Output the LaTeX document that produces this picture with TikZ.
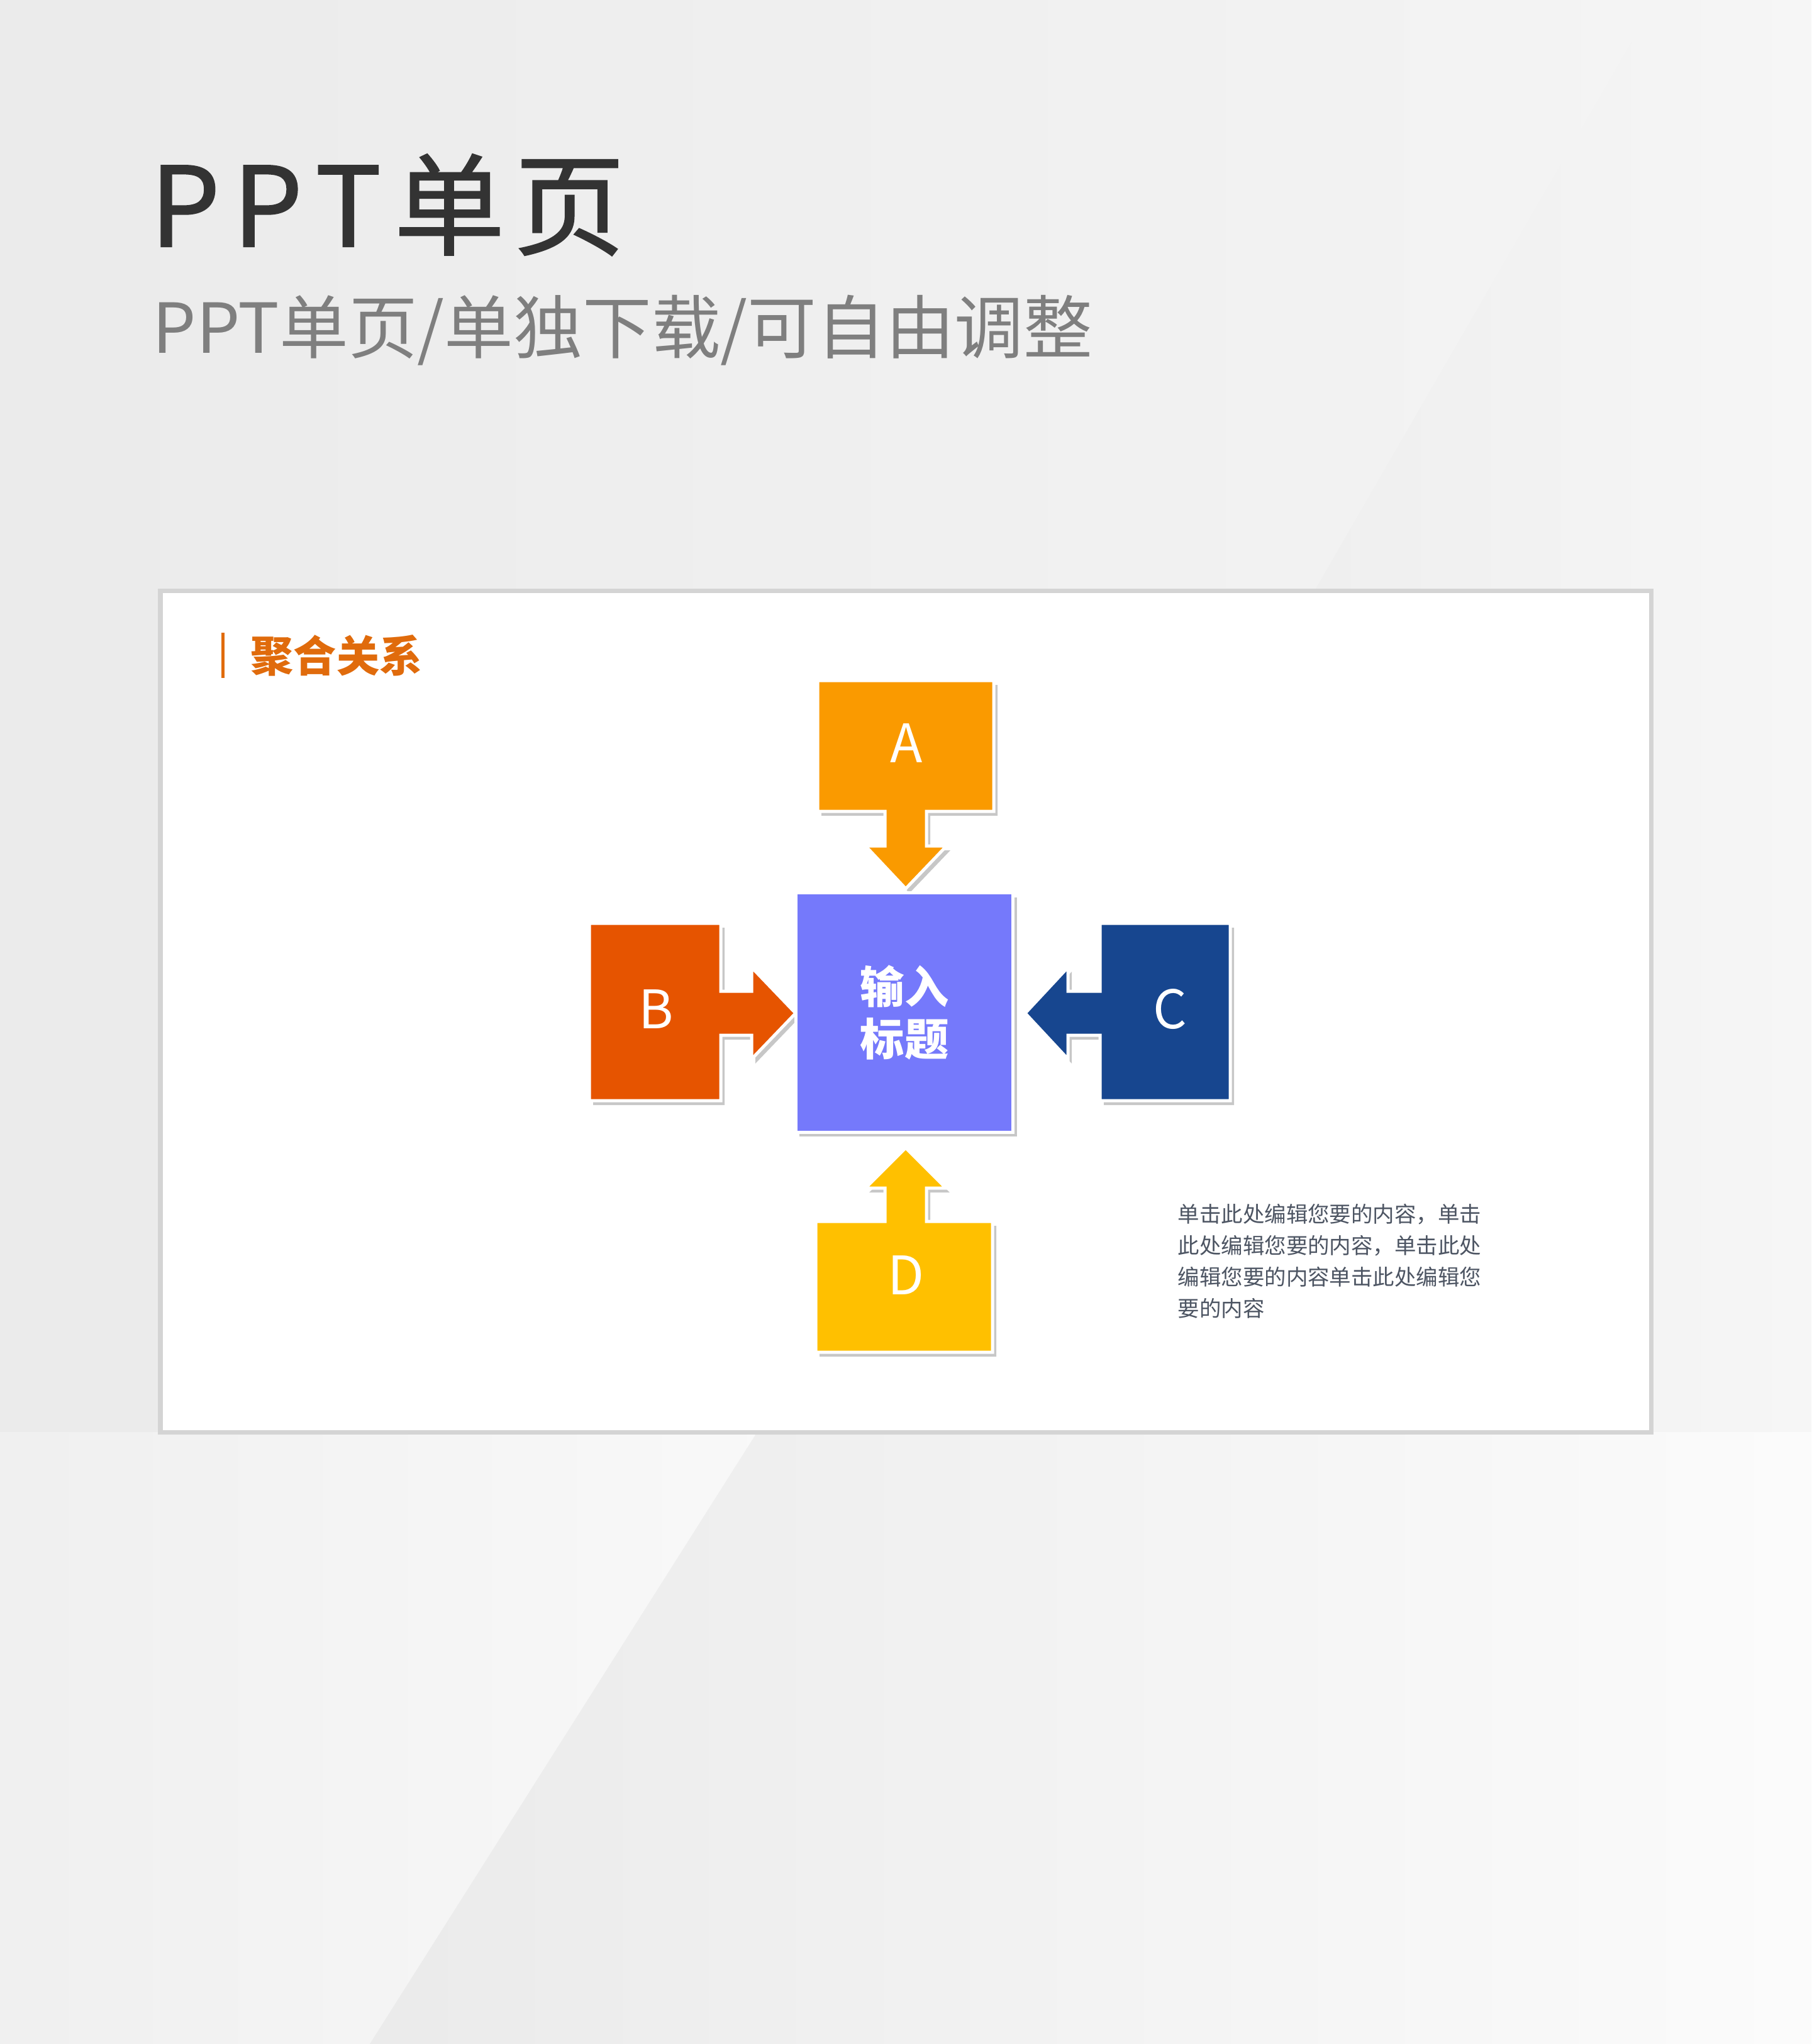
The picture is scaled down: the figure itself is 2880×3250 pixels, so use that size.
\documentclass[tikz,border=0pt]{standalone}
\usepackage{fontspec}
\setmainfont{Noto Sans CJK SC}
\newfontfamily\headfont{Noto Sans CJK SC}[FakeBold=1.2]
\usetikzlibrary{positioning,shadows}

\definecolor{boxA}{HTML}{FA9A00}
\definecolor{boxB}{HTML}{E65400}
\definecolor{boxC}{HTML}{17468F}
\definecolor{boxD}{HTML}{FFC000}
\definecolor{hubfill}{HTML}{7579FB}
\definecolor{titleink}{HTML}{333333}
\definecolor{subink}{HTML}{7F7F7F}
\definecolor{headink}{HTML}{E06B0C}
\definecolor{bodyink}{HTML}{4D5563}
\definecolor{frameline}{HTML}{D4D4D4}

\tikzset{
  softshadow/.style={drop shadow={shadow xshift=0.06cm, shadow yshift=-0.07cm, opacity=.22, fill=black}},
  callout/.style={draw=white, line width=0.05cm, line join=miter, softshadow},
  hubbox/.style={fill=hubfill, draw=white, line width=0.05cm, softshadow,
    minimum width=3.45cm, minimum height=3.8cm, text=white, align=center,
    font=\bfseries\fontsize{20pt}{23.6pt}\selectfont},
  letter/.style={text=white, inner sep=0, font=\fontsize{24pt}{24pt}\selectfont},
}

\begin{document}
\begin{tikzpicture}[x=0.01cm, y=-0.01cm]
    \useasboundingbox (0,0) rectangle (2880,3250);

    % background
    \shade[left color=black!8, right color=black!4] (0,0) rectangle (2880,3250);
    \shade[left color=black!9, right color=black!3.5] (2633,0) -- (2880,0) -- (2880,2277) -- (1317,2277) -- cycle;
    \shade[left color=black!6, right color=black!2.5] (0,2277) -- (1204,2277) -- (588,3250) -- (0,3250) -- cycle;
    \shade[left color=black!8, right color=black!1.5] (1204,2277) -- (2880,2277) -- (2880,3250) -- (588,3250) -- cycle;

    % headings
    \node[anchor=base west, inner sep=0, text=titleink, font=\headfont\fontsize{50pt}{50pt}\selectfont] (title) at (238,392)
        {P\kern0.2cm P\kern0.2cm T\kern0.2cm 单\kern0.15cm 页};
    \node[anchor=base west, inner sep=0, text=subink, font=\fontsize{31.2pt}{31.2pt}\selectfont] (subtitle) at (242,561)
        {PPT单页/单独下载/可自由调整};

    % panel
    \draw[fill=white, draw=frameline, line width=0.07cm] (255,939) rectangle (2625,2277);
    \coordinate (bartop) at (354,1006);
    \coordinate (barbot) at (354,1078);
    \draw[headink, line width=0.05cm] (bartop) -- (barbot);
    \node[anchor=west, inner sep=0, text=headink, font=\bfseries\fontsize{19.4pt}{19.4pt}\selectfont] (heading) at (398,1042) {聚合关系};

    % callouts
    \draw[callout, fill=boxA] (1300,1082) -- (1580,1082) -- (1580,1290) -- (1473,1290) -- (1473,1345) -- (1505,1345)
        -- (1440,1413) -- (1376,1345) -- (1407,1345) -- (1407,1290) -- (1300,1290) -- cycle;
    \draw[callout, fill=boxB] (937,1468) -- (1146,1468) -- (1146,1576) -- (1195,1576) -- (1195,1538)
        -- (1265,1611) -- (1195,1684) -- (1195,1646) -- (1146,1646) -- (1146,1750) -- (937,1750) -- cycle;
    \draw[callout, fill=boxC] (1956,1468) -- (1749,1468) -- (1749,1576) -- (1698,1576) -- (1698,1538)
        -- (1630,1611) -- (1698,1684) -- (1698,1646) -- (1749,1646) -- (1749,1750) -- (1956,1750) -- cycle;
    \draw[callout, fill=boxD] (1297,2150) -- (1578,2150) -- (1578,1942) -- (1473,1942) -- (1473,1889) -- (1504,1889)
        -- (1440,1825) -- (1376,1889) -- (1407,1889) -- (1407,1942) -- (1297,1942) -- cycle;

    \node[hubbox] (hub) at (1438,1610) {输入\\标题};

    \node[letter] (a) at (1441,1182) {A};
    \node[letter] (b) at (1043,1605) {B};
    \node[letter] (c) at (1860,1605) {C};
    \node[letter] (d) at (1441,2028) {D};

    % note
    \node[anchor=west, inner sep=0, align=left, text=bodyink, font=\fontsize{9.8pt}{14.2pt}\selectfont] (note) at (1872,2005)
        {单击此处编辑您要的内容，单击\\此处编辑您要的内容，单击此处\\编辑您要的内容单击此处编辑您\\要的内容};
\end{tikzpicture}
\end{document}
